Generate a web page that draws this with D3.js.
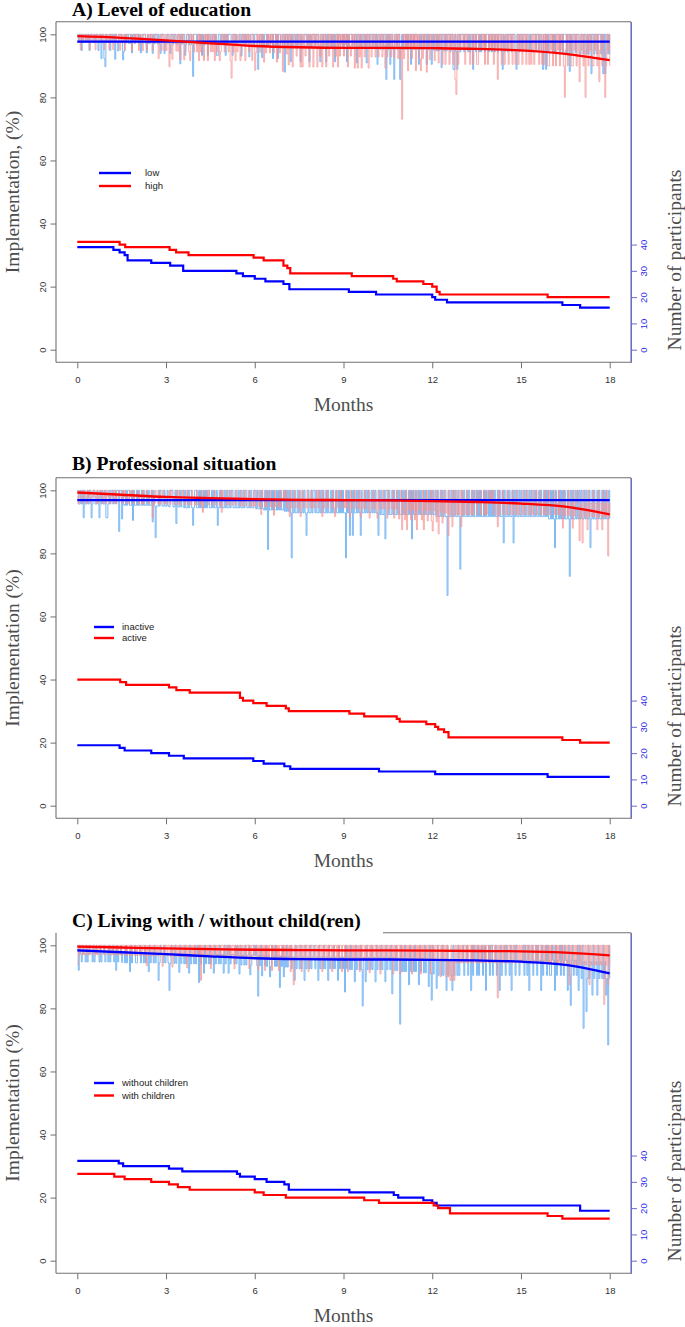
<!DOCTYPE html>
<html><head><meta charset="utf-8">
<script src="https://cdn.jsdelivr.net/npm/d3@7"></script>
<style>body{margin:0;background:#fff}</style>
</head><body>
<svg id="c" width="685" height="1327"></svg>
<script>
// ---------- DATA ----------
const panelTitles = ["A) Level of education", "B) Professional situation", "C) Living with / without child(ren)"];
const yTitles = ["Implementation, (%)", "Implementation (%)", "Implementation (%)"];
const xTitle = "Months";
const rightTitle = "Number of participants";
const legendLabels = [["low", "high"], ["inactive", "active"], ["without children", "with children"]];
const monthTicks = [0, 3, 6, 9, 12, 15, 18];
const leftTicks = [0, 20, 40, 60, 80, 100];
const rightTicks = [0, 10, 20, 30, 40];

// participants at risk: [month, count] change points
const countA_blue = [[0,39],[1.22,38],[1.43,37],[1.6,36],[1.7,34],[2.5,33],[3.14,32],[3.58,30],[5.38,29],[5.6,28],[6.0,27],[6.36,26],[6.97,25],[7.17,23],[9.18,22],[10.1,21],[12.0,20],[12.1,19],[12.5,18],[16.4,17],[17.0,16]];
const countA_red  = [[0,41],[1.43,40],[1.62,39],[3.12,38],[3.34,37],[3.76,36],[5.96,35],[6.3,34],[6.97,32],[7.1,31],[7.2,29],[9.28,28],[10.68,27],[10.8,26],[11.7,25],[12.0,24],[12.15,22],[12.25,21],[15.9,20]];
const countB_blue = [[0,23],[1.43,22],[1.6,21],[2.5,20],[3.1,19],[3.6,18],[5.95,17],[6.3,16],[7.0,15],[7.2,14],[10.2,13],[12.1,12],[15.9,11]];
const countB_red  = [[0,48],[1.45,47],[1.65,46],[3.1,45],[3.35,44],[3.8,43],[5.5,41],[5.6,40],[5.95,39],[6.4,38],[7.05,37],[7.15,36],[9.2,35],[9.7,34],[10.8,33],[10.9,32],[11.8,31],[12.1,30],[12.2,29],[12.4,28],[12.55,26],[16.4,25],[17.0,24]];
const countC_blue = [[0,38],[1.4,37],[1.55,36],[3.1,35],[3.55,34],[5.4,33],[5.5,32],[6.0,31],[6.4,30],[7.0,29],[7.15,27],[9.2,26],[10.7,25],[10.85,24],[11.7,23],[12.0,22],[12.15,21],[17.0,19]];
const countC_red  = [[0,33],[1.25,32],[1.6,31],[2.5,30],[3.1,29],[3.4,28],[3.8,27],[6.0,26],[6.3,25],[7.05,24],[9.7,23],[10.2,22],[12.05,21],[12.2,20],[12.6,18],[15.9,17],[16.4,16]];

// smoothed implementation trend (%), at these months
const trendMonths = [0, 1.5, 3, 4.5, 6, 7.5, 9, 10.5, 12, 13.5, 15, 16.5, 18];
const trendA_blue = [97.7,97.7,97.7,97.7,97.7,97.7,97.7,97.7,97.7,97.7,97.7,97.7,97.7];
const trendA_red  = [99.4,98.9,98.1,97.1,96.3,95.9,95.7,95.7,95.6,95.4,94.9,93.8,91.8];
const trendB_blue = [96.9,96.9,96.9,96.9,96.9,96.9,96.9,96.9,96.9,96.9,96.9,96.9,96.9];
const trendB_red  = [99.3,98.6,97.9,97.5,97.2,97.0,96.9,96.8,96.6,96.3,95.8,94.8,92.4];
const trendC_blue = [98.4,97.8,97.2,96.5,95.9,95.6,95.5,95.5,95.4,95.2,94.8,93.8,91.1];
const trendC_red  = [99.6,99.3,99.0,98.8,98.6,98.5,98.4,98.4,98.3,98.2,98.1,97.7,96.8];

// daily number of missed intakes (one character per day, day 0..540)
const missA_blue = [
"010020110010200110100210300340","110200103012000132010011020010","001021000120110020100101200021",
"100120010011003010021001001400","010010201100200110010220010010","201000120010110020010100210001",
"000310020100101100200102001100","300100201001010020110001020100","010001200100201001010200100110",
"100201000110020010100102001001","001020010010030102001300100310","100101002001000120100100201002",
"010010100200101000100220120010","001000101002001001010001000100","100100100012010010001000120010",
"010001001010000100100120020100","001010000100100010020100010001","100100101002001001000102020010","1"].join("");
const missA_red = [
"110201001010210010201100101201","012010210011020101201000121010","102101200120101021000131020120",
"201400310120203010321002301021","120302013010301202030211320102","010213502030210320103010201301",
"420102010312010201021030120140","102030103101201030301201030103","010301203010310201030120302010",
"201030120103013020310201030120","102012010201302010201201020217","020103010201030102302010310201",
"102010201021020102010203402010","010201002102010220100102012010","102010301020120102010201210201",
"020102012021020100201202010220","102012010201024102010220102013","010204102010220102031020142010","2"].join("");
const missB_blue = [
"011010201101002100110120101102","210100100100300201101001102011","010110101101011020131101001101",
"101100011020110100101101001210","011010110101001101011021010110","101101001101101011010011010110",
"010110101101030110101101010110","101010130101101011010121011010","010110101011010110101101101010",
"113010210201101012011010101101","010112010110200101101011010110","101011010201101101011010110101",
"011010110101011401101010110131","010110101101011010101101011010","101011010110201101011020101101",
"011010110101101011010110101011","010120110101010110130101101010","101101011021010110101101010110","1"].join("");
const missB_red = [
"120112011201021101120210112012","011210120211011201021120110211","102112021101211041201120211021",
"211020112101202110121021120112","102112031101201121102111203011","120211021120111202110211021120",
"211021301120211021130211202110","102113021102112031021120112021","211020113021102111202310211021",
"120211302110211203112021103112","021130211202113021120312023104","123041203120314021230412031203",
"402130412031202140213012021203","021120211202110211021102120110","102112302110211201121021120211",
"120211021120211021102112021102","211021120211302112021130211024","124021130211202113021130212051","2"].join("");
const missC_blue = [
"030120112021011202101120211021","120211021302110211202113021102","211021120211302112021142011202",
"112520112021130211202113021120","210402113021120211302112021130","210302111202013021120211032110",
"102512031120211320112021141203","120211021130211202113021120211","021130211202113021120211302112",
"140211202113021120251130211202","113021120211302112041120211602","120211302112021130211202113024",
"021130211202113021123021120211","102110211302011202110210311020","021102113021102011203110201121",
"110201203110211020113021102012","201130211020120113024102112030","120511420211302113021120213260","2"].join("");
const missC_red = [
"201001010010100100101001000100","010010100101001000101001010010","100101001020100101001010012010",
"010010201001010010100201001010","100103010010100201001010010010","010010100201010010100100201001",
"100201001020101002010010200101","010010201300101002010100201001","100101002010010100201001010020",
"010020100101001020100101002010","100101020010100101002010100201","010010100201001010201001010020",
"101001002010102021202120100101","010010100101001001010010100100","100100301001010010010100100101",
"010010010100100101001001010010","100100101001010010020100101001","010010100201001010010100301020","1"].join("");

// ---------- LAYOUT ----------
const panels = [
  {off:0,   blueMiss:missA_blue, redMiss:missA_red, blueN:countA_blue, redN:countA_red, blueT:trendA_blue, redT:trendA_red,
   leg:{x1:99,x2:131,tx:145,y1:173,y2:186}, titleY:16, partialTop:false},
  {off:456, blueMiss:missB_blue, redMiss:missB_red, blueN:countB_blue, redN:countB_red, blueT:trendB_blue, redT:trendB_red,
   leg:{x1:94,x2:114,tx:122,y1:171,y2:182}, titleY:14, partialTop:false},
  {off:911, blueMiss:missC_blue, redMiss:missC_red, blueN:countC_blue, redN:countC_red, blueT:trendC_blue, redT:trendC_red,
   leg:{x1:94,x2:114,tx:122,y1:172,y2:184.5}, titleY:16, partialTop:true}
];

const BLUE = "#0000ff", RED = "#ff0000";
const LBLUE = "#5fa9f2", LRED = "#f59393";
const AXC = "#707070";

const svg = d3.select("#c");
svg.append("rect").attr("width",685).attr("height",1327).attr("fill","#fff");

const x = d3.scaleLinear().domain([-0.72, 18.72]).range([56, 631]);

function countAt(steps, m){ let n = steps[0][1]; for (const s of steps){ if (s[0] <= m + 1e-9) n = s[1]; } return n; }

panels.forEach((p, i) => {
  const off = p.off;
  const y = d3.scaleLinear().domain([-4, 104]).range([362.3 + off, 21.7 + off]);
  const yR = d3.scaleLinear().domain([-4.8, 124.8]).range([362.3 + off, 21.7 + off]);
  const g = svg.append("g");

  // noisy daily series
  const daily = (miss, steps) => Array.from(miss, (c, d) => { const m = d / 30; const n = countAt(steps, m); return [m, 100 * (n - (+c)) / n]; });
  const stepLine = d3.line().x(d => x(d[0])).y(d => y(d[1])).curve(d3.curveStepAfter);
  g.append("path").attr("d", stepLine(daily(p.blueMiss, p.blueN))).attr("fill","none").attr("stroke",LBLUE).attr("stroke-width",0.9).attr("opacity",0.9);
  g.append("path").attr("d", stepLine(daily(p.redMiss, p.redN))).attr("fill","none").attr("stroke",LRED).attr("stroke-width",0.9).attr("opacity",0.85);

  // trends
  const tl = d3.line().x((d, k) => x(trendMonths[k])).y(d => y(d)).curve(d3.curveMonotoneX);
  g.append("path").attr("d", tl(p.blueT)).attr("fill","none").attr("stroke",BLUE).attr("stroke-width",2.3);
  g.append("path").attr("d", tl(p.redT)).attr("fill","none").attr("stroke",RED).attr("stroke-width",2.3);

  // participants (step)
  const cl = d3.line().x(d => x(d[0])).y(d => yR(d[1])).curve(d3.curveStepAfter);
  const ext = s => s.concat([[18, s[s.length - 1][1]]]);
  g.append("path").attr("d", cl(ext(p.blueN))).attr("fill","none").attr("stroke",BLUE).attr("stroke-width",2.2);
  g.append("path").attr("d", cl(ext(p.redN))).attr("fill","none").attr("stroke",RED).attr("stroke-width",2.2);

  // box
  const bx0 = 56, bx1 = 631, by0 = 21.7 + off, by1 = 362.3 + off;
  const box = svg.append("g").attr("stroke", AXC).attr("stroke-width", 1.1);
  box.append("line").attr("x1",bx0).attr("x2",bx0).attr("y1",by0).attr("y2",by1);
  box.append("line").attr("x1",bx1).attr("x2",bx1).attr("y1",by0).attr("y2",by1);
  box.append("line").attr("x1",bx0).attr("x2",bx1).attr("y1",by1).attr("y2",by1);
  box.append("line").attr("x1", p.partialTop ? 383 : bx0).attr("x2",bx1).attr("y1",by0).attr("y2",by0);

  // left axis
  const la = svg.append("g").attr("transform", `translate(${bx0},0)`).call(d3.axisLeft(y).tickValues(leftTicks).tickSize(5.5).tickSizeOuter(0).tickPadding(0));
  la.select(".domain").remove();
  la.selectAll(".tick line").attr("stroke", AXC);
  la.selectAll(".tick text").attr("x", null).attr("dy", null)
    .each(function(){ d3.select(this).attr("transform", `translate(-13.5,0) rotate(-90)`).attr("text-anchor","middle").attr("dy","0.36em"); })
    .attr("font-family","'Liberation Sans', Arial, sans-serif").attr("font-size","9.5px").attr("fill","#333");

  // bottom axis
  const ba = svg.append("g").attr("transform", `translate(0,${by1})`).call(d3.axisBottom(x).tickValues(monthTicks).tickSize(6).tickSizeOuter(0).tickPadding(8));
  ba.select(".domain").remove();
  ba.selectAll(".tick line").attr("stroke", AXC);
  ba.selectAll(".tick text").attr("font-family","'Liberation Sans', Arial, sans-serif").attr("font-size","9.5px").attr("fill","#333");

  // right axis
  const ra = svg.append("g").attr("transform", `translate(${bx1},0)`).call(d3.axisRight(yR).tickValues(rightTicks).tickSize(6).tickSizeOuter(0).tickPadding(0));
  ra.select(".domain").attr("stroke", "#6a6ae0");
  ra.selectAll(".tick line").attr("stroke", "#6a6ae0");
  ra.selectAll(".tick text")
    .each(function(){ d3.select(this).attr("x", null).attr("transform", `translate(13,0) rotate(-90)`).attr("text-anchor","middle").attr("dy","0.36em"); })
    .attr("font-family","'Liberation Sans', Arial, sans-serif").attr("font-size","9.5px").attr("fill","#2b2bea");

  // titles
  svg.append("text").attr("x", 72).attr("y", p.titleY + off).text(panelTitles[i])
    .attr("font-family","'Liberation Serif', 'Times New Roman', serif").attr("font-weight","bold").attr("font-size","19.6px").attr("fill","#000");
  svg.append("text").attr("transform", `translate(19,${192 + off}) rotate(-90)`).attr("text-anchor","middle").text(yTitles[i])
    .attr("font-family","'Liberation Serif', 'Times New Roman', serif").attr("font-size","19.5px").attr("fill","#4d4d4d");
  svg.append("text").attr("transform", `translate(681,${260 + off}) rotate(-90)`).attr("text-anchor","middle").text(rightTitle)
    .attr("font-family","'Liberation Serif', 'Times New Roman', serif").attr("font-size","19.5px").attr("fill","#4d4d4d");
  svg.append("text").attr("x", 343.5).attr("y", 411 + off).attr("text-anchor","middle").text(xTitle)
    .attr("font-family","'Liberation Serif', 'Times New Roman', serif").attr("font-size","19.5px").attr("fill","#4d4d4d");

  // legend
  const L = p.leg;
  [[BLUE, L.y1, legendLabels[i][0]], [RED, L.y2, legendLabels[i][1]]].forEach(([col, ly, lab]) => {
    svg.append("line").attr("x1", L.x1).attr("x2", L.x2).attr("y1", ly + off).attr("y2", ly + off).attr("stroke", col).attr("stroke-width", 2.4);
    svg.append("text").attr("x", L.tx).attr("y", ly + off).attr("dy","0.35em").text(lab)
      .attr("font-family","'Liberation Sans', Arial, sans-serif").attr("font-size","9.5px").attr("fill","#222");
  });
});
</script></body></html>
